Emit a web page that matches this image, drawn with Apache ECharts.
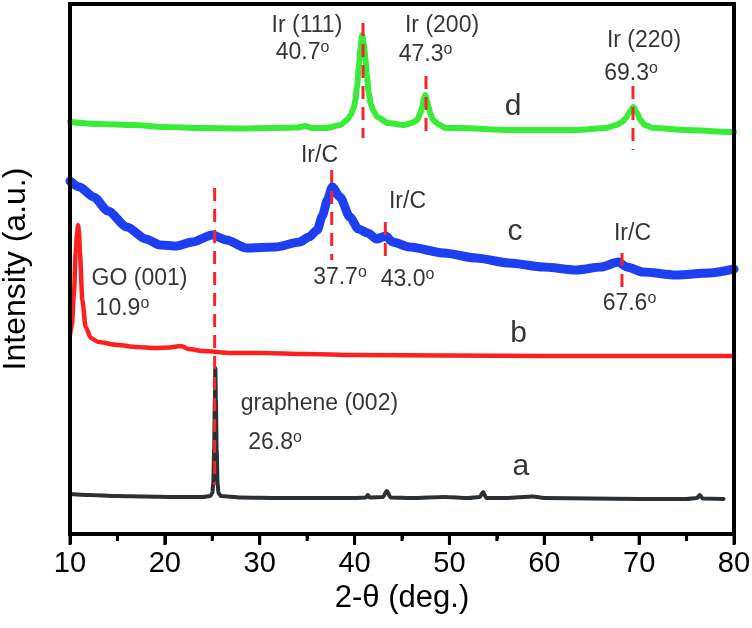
<!DOCTYPE html>
<html><head><meta charset="utf-8">
<script src="https://cdn.jsdelivr.net/npm/echarts@6/dist/echarts.min.js"></script>
<style>html,body{margin:0;padding:0;background:#fff}#c{width:752px;height:628px}</style>
</head><body><div id="c"></div>
<script>
// 2-theta (deg) vs intensity (a.u., stacked offsets)
const sampleA = [[10,40],[12,39],[15,38],[18,37.5],[21,37],[24,37],[24.8,38],[25.0,41],[25.1,50],[25.2,85],[25.27,135],[25.32,166],[25.38,135],[25.46,85],[25.56,50],[25.66,41],[25.9,38],[28,36.5],[32,36],[36,36],[40,36],[41.2,36.5],[41.4,39],[41.6,36.5],[43.0,37],[43.4,43],[43.8,36.5],[46,36],[49.5,37],[52,36],[53.2,37],[53.55,42],[53.9,36],[56,36],[58.8,37.5],[60,36],[65,35.5],[70,35],[75,35],[76.1,36],[76.4,39],[76.7,35.5],[78.9,35]];
const sampleB = [[10.0,199],[10.2,209],[10.42,241],[10.6,281],[10.75,302],[10.85,309],[10.95,302],[11.05,281],[11.3,234],[11.65,207],[12.2,196],[13,192],[15,189],[17,187],[19,186],[20.5,186.5],[21.7,188],[22.5,185],[24,183],[27,181],[30,181],[35,180],[40,179],[50,178.5],[60,178],[70,178],[80,178]];
const sampleC = [[10.0,353],[11,347],[12.5,337],[14,323],[16.0,307],[18,295],[19.5,289],[21.2,288],[22.9,292],[25.0,299],[26.5,294],[28.6,286],[31.7,287],[34.2,292],[35.2,297],[36.07,304],[36.6,318],[37.13,334],[37.65,347],[38.46,337],[39.5,317],[40.4,305],[41.4,301],[42.3,295],[43.3,298],[44.0,292],[45.8,287],[49.4,281],[52.8,276],[56.3,271],[59.9,267],[63.4,264],[66.0,267],[67.8,272],[68.7,267],[70.4,262],[73.9,259],[77.4,261],[80,265]];
const sampleD = [[10,412],[13,410],[16.7,409],[20,407],[23.8,406],[28,405.5],[31,406],[34,406.5],[34.8,408],[35.5,406],[37,406],[38.5,409],[39.2,414],[39.6,419],[39.9,426],[40.1,434],[40.25,447],[40.45,467],[40.6,485],[40.8,499],[40.98,490],[41.16,474],[41.3,458],[41.5,441],[41.7,430],[42.0,423],[42.4,417],[43.5,411],[45.2,409],[46.0,411],[46.6,414],[46.9,420],[47.13,427],[47.3,435],[47.45,439],[47.62,434],[47.8,427],[48.0,420],[48.3,414],[48.8,410],[49.6,406],[51,406],[56.3,404],[63.4,404],[66.5,406],[67.6,409],[68.2,412],[68.6,416],[69.0,422],[69.4,427],[69.8,421],[70.1,414],[70.6,409],[71.5,406],[75,404],[79.7,402],[80,402]];
// reference dashed markers: [2-theta, top, bottom]
const refLines = [[25.25,346,49],[40.89,511,396],[47.53,458,396],[69.35,448,384],[37.59,364,274],[43.24,312,272],[68.19,281,239]];
// annotations: [text, 2-theta, intensity, degreeMark, fontSize]
const annotations = [
  ['Ir (111)',34.98,508,false,23],['40.7',34.51,481.5,true,23],
  ['Ir (200)',49.22,508,false,23],['47.3',47.48,479.5,true,23],
  ['Ir (220)',70.51,493,false,23],['69.3',69.14,460.5,true,23],
  ['d',56.70,427,false,30],['c',56.91,302,false,30],['b',57.28,200,false,30],['a',57.54,67.5,false,30],
  ['Ir/C',36.30,378,false,23],['37.7',38.46,256,true,23],
  ['Ir/C',45.58,332,false,23],['43.0',45.58,254,true,23],
  ['Ir/C',69.30,300.5,false,23],['67.6',68.98,230,true,23],
  ['GO (001)',17.33,255.5,false,23],['10.9',15.53,225.5,true,23],
  ['graphene (002)',36.30,130,false,23],['26.8',31.61,91.5,true,23]
];
const xTickLabels = ['10','20','30','40','50','60','70','80'];
const xMin = 10, xMax = 80, xStep = 10, yMin = 0, yMax = 530;

const FONT = '"Liberation Sans", Arial, sans-serif';
const chart = echarts.init(document.getElementById('c'), null, {renderer:'canvas'});

function curve(data, color, width){
  return {type:'line', data, symbol:'none', smooth:0.25, smoothMonotone:'x',
    lineStyle:{color, width, cap:'round', join:'round'}, z:2, silent:true};
}
const series = [
  curve(sampleA, '#2b3034', 4),
  curve(sampleB, '#ff1f1f', 4.5),
  curve(sampleC, '#1e3ef2', 9),
  curve(sampleD, '#38ec38', 6)
];
refLines.forEach(r => series.push({type:'line', data:[[r[0],r[1]],[r[0],r[2]]], symbol:'none',
  lineStyle:{color:'#f5262b', width:3, type:[13,8]}, z:5, silent:true}));
series.push({type:'scatter', symbolSize:0, z:6, silent:true,
  data: annotations.map(a => ({value:[a[1],a[2]], label:{show:true, position:'inside',
    formatter: a[3] ? '{n|'+a[0]+'}{s|o}' : '{p|'+a[0]+'}',
    rich:{
      p:{fontSize:a[4], fontFamily:FONT, color:'#000', lineHeight:a[4]+3},
      n:{fontSize:a[4], fontFamily:FONT, color:'#000', lineHeight:26},
      s:{fontSize:16, fontFamily:FONT, color:'#000', lineHeight:15, verticalAlign:'top'}
    }}}))
});

chart.setOption({
  animation:false,
  backgroundColor:'#fff',
  grid:{left:70, right:18, top:4, bottom:94, outerBoundsMode:'none', containLabel:false},
  xAxis:{type:'value', min:xMin, max:xMax, interval:xStep, position:'bottom',
    name:'2-θ (deg.)', nameLocation:'middle', nameGap:49,
    nameTextStyle:{fontSize:31, fontFamily:FONT, color:'#000'},
    axisLine:{show:true, onZero:false, lineStyle:{color:'#000', width:4}},
    axisTick:{show:true, inside:false, length:10, lineStyle:{color:'#000', width:3}},
    minorTick:{show:true, splitNumber:2, length:5, lineStyle:{color:'#000', width:3}},
    axisLabel:{fontSize:29, fontFamily:FONT, color:'#000', margin:15,
      formatter:v => xTickLabels[Math.round((v-xMin)/xStep)] || ''},
    splitLine:{show:false}},
  yAxis:{type:'value', min:yMin, max:yMax,
    name:'Intensity (a.u.)', nameLocation:'middle', nameGap:38,
    nameTextStyle:{fontSize:32, fontFamily:FONT, color:'#000'},
    axisLine:{show:true, lineStyle:{color:'#000', width:4}}, axisTick:{show:false}, axisLabel:{show:false}, splitLine:{show:false}},
  series
});

// frame and ticks, placed through the grid's own scales
const p0 = chart.convertToPixel({gridIndex:0}, [xMin, yMin]);
const p1 = chart.convertToPixel({gridIndex:0}, [xMax, yMax]);
const els = [{type:'rect', z:100, silent:true,
  shape:{x:p0[0], y:p1[1], width:p1[0]-p0[0], height:p0[1]-p1[1]},
  style:{fill:null, stroke:'#000', lineWidth:4}}];
for (let v = xMin; v <= xMax + 1e-9; v += xStep/2) {
  const px = chart.convertToPixel({gridIndex:0}, [v, yMin])[0];
  const major = Math.abs((v - xMin) % xStep) < 1e-9;
  els.push({type:'line', z:100, silent:true,
    shape:{x1:px, y1:p0[1], x2:px, y2:p0[1] + (major ? 11 : 7)},
    style:{stroke:'#000', lineWidth:3}});
}
chart.setOption({graphic:{elements:els}});
</script></body></html>
